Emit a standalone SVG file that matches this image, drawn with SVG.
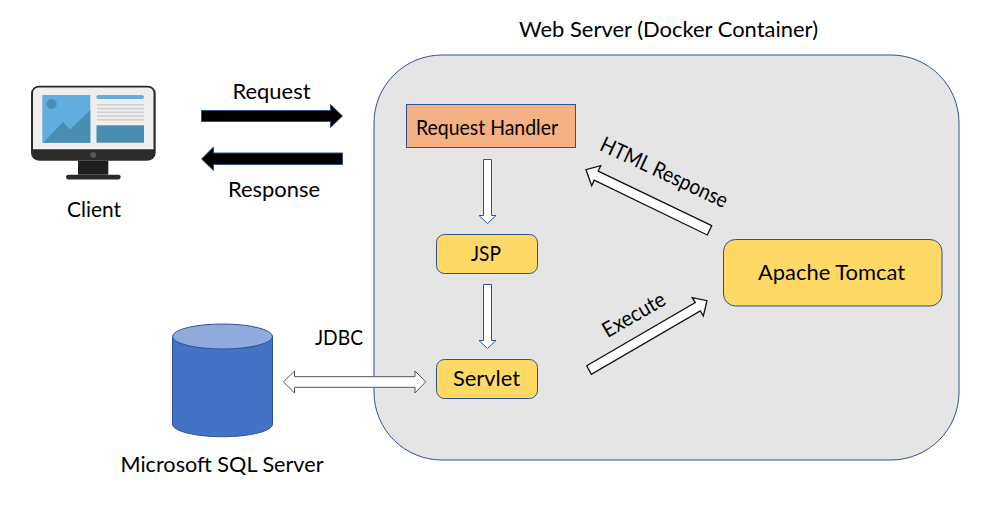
<svg xmlns="http://www.w3.org/2000/svg" width="997" height="511" viewBox="0 0 997 511">
<style>
text{font-family:"Lato","Open Sans","Liberation Sans",sans-serif;font-size:21.500px;fill:#000;text-anchor:middle}
.box{fill:#ffd966;stroke:#2f528f;stroke-width:1}
.blue{fill:#fff;stroke:#2f528f;stroke-width:1}
.dark{fill:#fff;stroke:#111;stroke-width:1.300}
.fat{fill:#000;stroke:#2f528f;stroke-width:1}
.gl{fill:#cfcfcf}
</style>
<rect width="997" height="511" fill="#fff"/>
<g id="web-server">
<rect x="374" y="55" width="585" height="405" rx="68" ry="68" fill="#e5e5e5" stroke="#2f528f"/>
<text x="668.500" y="37" textLength="299" lengthAdjust="spacingAndGlyphs">Web Server (Docker Container)</text>
</g>
<g id="client">
<rect x="31" y="85.700" width="124.700" height="75" rx="8" fill="#2b2b2b"/>
<path d="M33 149.300V93a5.500 5.500 0 0 1 5.500-5.500H148a5.500 5.500 0 0 1 5.500 5.500V149.300Z" fill="#eeeeee"/>
<rect x="42.300" y="95" width="48" height="47.700" fill="#62aee0"/>
<circle cx="51.700" cy="104" r="5" fill="#4a8db3"/>
<path d="M43 142.700L63 122L70 129.500L90.300 110V142.700Z" fill="#4a8db3"/>
<rect x="96.300" y="95" width="47.700" height="4" rx="2" fill="#62aee0"/>
<rect class="gl" x="97" y="104" width="47" height="1.600"/>
<rect class="gl" x="97" y="107.800" width="47" height="1.600"/>
<rect class="gl" x="97" y="111.500" width="47" height="1.600"/>
<rect class="gl" x="97" y="115.200" width="47" height="1.600"/>
<rect class="gl" x="97" y="119" width="47" height="1.600"/>
<rect x="96.500" y="125.300" width="47.500" height="17.400" fill="#4a8db3"/>
<circle cx="93.300" cy="155" r="3" fill="#555"/>
<rect x="78" y="160.700" width="30.300" height="14" fill="#1f1f1f"/>
<rect x="66" y="174.700" width="54.700" height="4.800" rx="2.400" fill="#2b2b2b"/>
<text x="94" y="217" textLength="54" lengthAdjust="spacingAndGlyphs">Client</text>
</g>
<g id="database">
<path d="M172.500 336.500V424.200C172.500 431 195 436.700 222.500 436.700S272.500 431 272.500 424.200V336.500Z" fill="#4472c4" stroke="#2f528f"/>
<ellipse cx="222.500" cy="336.500" rx="50" ry="12.500" fill="#8faadc" stroke="#2f528f"/>
<text x="222" y="472" textLength="203" lengthAdjust="spacingAndGlyphs">Microsoft SQL Server</text>
</g>
<g id="request-handler">
<rect x="406.500" y="104.500" width="169" height="43" fill="#f4b183" stroke="#2f528f"/>
<text x="487" y="134.500" textLength="142" lengthAdjust="spacingAndGlyphs">Request Handler</text>
</g>
<g id="jsp">
<rect class="box" x="436.500" y="234.500" width="101" height="39" rx="8"/>
<text x="486" y="261" textLength="30" lengthAdjust="spacingAndGlyphs">JSP</text>
</g>
<g id="servlet">
<rect class="box" x="436.500" y="359.500" width="101" height="39" rx="8"/>
<text x="486.500" y="386" textLength="67" lengthAdjust="spacingAndGlyphs">Servlet</text>
</g>
<g id="tomcat">
<rect class="box" x="723.500" y="239.500" width="218.500" height="66.500" rx="12"/>
<text x="831.500" y="280" textLength="147" lengthAdjust="spacingAndGlyphs">Apache Tomcat</text>
</g>
<g id="connectors">
<polygon class="fat" points="201.500,110.500 330.500,110.500 330.500,104.500 342.500,116 330.500,127.500 330.500,121.500 201.500,121.500"/>
<polygon class="fat" points="342.500,153 213.500,153 213.500,147 201.500,159 213.500,170.500 213.500,164.500 342.500,164.500"/>
<polygon class="blue" points="483.500,159.500 491.500,159.500 491.500,215.500 496,215.500 487.500,223.500 479,215.500 483.500,215.500"/>
<polygon class="blue" points="483.500,284.500 491.500,284.500 491.500,340.500 496,340.500 487.500,348.500 479,340.500 483.500,340.500"/>
<polygon points="283.500,381.800 294.500,371 294.500,376.700 415,376.700 415,371 425.700,381.800 415,393 415,387.300 294.500,387.300 294.500,393" fill="#fff" stroke="#555"/>
<polygon class="dark" points="586.700,365.700 695.300,302.600 692.300,297.700 707,300.700 703.300,316 700.300,311 591.300,374.300"/>
<polygon class="dark" points="711.700,225.700 598.200,171.200 600.700,165.700 586,169.700 591.700,185.700 594.200,180.200 707.300,235"/>
</g>
<g id="labels">
<text x="271.500" y="99" textLength="78" lengthAdjust="spacingAndGlyphs">Request</text>
<text x="274" y="197" textLength="92" lengthAdjust="spacingAndGlyphs">Response</text>
<text x="339" y="345" textLength="48" lengthAdjust="spacingAndGlyphs">JDBC</text>
<text transform="translate(637.500 321) rotate(-30)" textLength="69" lengthAdjust="spacingAndGlyphs">Execute</text>
<text transform="translate(661 179) rotate(25)" textLength="138" lengthAdjust="spacingAndGlyphs">HTML Response</text>
</g>
</svg>
